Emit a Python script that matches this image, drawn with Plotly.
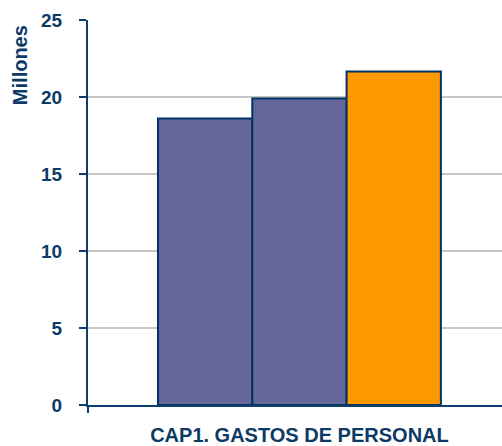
import plotly.graph_objects as go

CATEGORY = ["CAP1. GASTOS DE PERSONAL"]
SERIES_NAMES = ["Serie 1", "Serie 2", "Serie 3"]
SERIES_VALUES = [[18.6], [19.9], [21.65]]
SERIES_COLORS = ["#666699", "#666699", "#FF9900"]
Y_TICKS = [0, 5, 10, 15, 20, 25]

NAVY = "#0b3a66"
LINE = "#0f3d6e"
FONT = "Liberation Sans, Arial, sans-serif"

fig = go.Figure()
for name, vals, col in zip(SERIES_NAMES, SERIES_VALUES, SERIES_COLORS):
    fig.add_trace(go.Bar(
        name=name, x=CATEGORY, y=vals,
        marker=dict(color=col, line=dict(color="#003366", width=2)),
    ))

fig.update_layout(
    width=502, height=446,
    barmode="group", bargap=0.331, bargroupgap=0,
    showlegend=False,
    paper_bgcolor="white", plot_bgcolor="white",
    margin=dict(l=88, r=0, t=20, b=38),
    font=dict(family=FONT, color=NAVY),
    xaxis=dict(
        range=[-0.5, 0.479],
        showline=True, linecolor=LINE, linewidth=2,
        showgrid=False, ticks="outside", tickson="boundaries",
        ticklen=6, tickwidth=2, tickcolor=LINE,
        tickfont=dict(size=20, family=FONT, color=NAVY, weight="bold"),
        ticklabelstandoff=11,
    ),
    yaxis=dict(
        range=[0, 25], tickvals=Y_TICKS,
        showline=True, linecolor=LINE, linewidth=2,
        showgrid=True, gridcolor="#c6c6c6", gridwidth=2,
        ticks="outside", ticklen=7, tickwidth=2, tickcolor=LINE,
        tickfont=dict(size=19, family=FONT, color=NAVY, weight="bold"),
        ticklabelstandoff=13,
        zeroline=False,
    ),
    annotations=[dict(
        text="<b>Millones</b>", textangle=-90,
        xref="paper", yref="paper", x=-0.1655, y=0.884,
        xanchor="center", yanchor="middle", showarrow=False,
        font=dict(size=20, family=FONT, color=NAVY),
    )],
)

fig.write_html("out.html", config={"displayModeBar": False},
               post_script="document.body.style.margin='0';")
